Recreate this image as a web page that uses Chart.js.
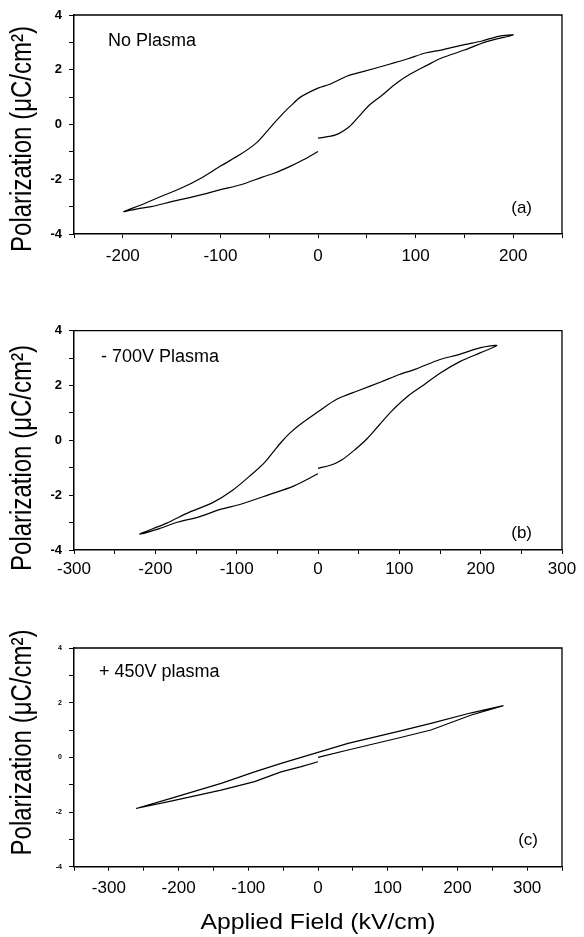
<!DOCTYPE html>
<html>
<head>
<meta charset="utf-8">
<script src="https://cdn.jsdelivr.net/npm/chart.js@4.4.1/dist/chart.umd.min.js"></script>
<style>
  body { margin: 0; background: #fff; }
  #wrap { position: relative; width: 584px; height: 937px; }
  canvas { position: absolute; left: 0; }
</style>
</head>
<body>
<div id="wrap">
  <canvas id="chartA" width="584" height="300" style="top:0"></canvas>
  <canvas id="chartB" width="584" height="300" style="top:300px"></canvas>
  <canvas id="chartC" width="584" height="337" style="top:600px"></canvas>
</div>
<script>
// (a) No Plasma - loop, starting at the open end at 0 kV/cm
const fieldA = [0, 18, 32, 42, 53, 65, 80, 95, 111, 126, 150, 172, 200,
  185, 168, 150, 126, 111, 92, 73, 46, 30, 12, 0,
  -18, -28, -36, -45, -53, -64, -79, -99, -120, -140, -161, -180, -199,
  -185, -171, -150, -120, -100, -79, -57, -45, -28, -15, 0];
const polA = [-0.5, -0.38, -0.08, 0.3, 0.72, 1.05, 1.5, 1.85, 2.15, 2.42, 2.72, 3.02, 3.27,
  3.22, 3.05, 2.92, 2.72, 2.62, 2.4, 2.2, 1.93, 1.77, 1.47, 1.33,
  1.0, 0.68, 0.4, 0.05, -0.28, -0.7, -1.08, -1.5, -1.96, -2.32, -2.63, -2.92, -3.18,
  -3.08, -3.0, -2.82, -2.57, -2.38, -2.2, -1.92, -1.78, -1.52, -1.29, -0.99];

// (b) -700V Plasma
const fieldB = [0, 18, 30, 45, 60, 75, 90, 110, 130, 150, 175, 200, 220,
  200, 172, 150, 120, 100, 78, 50, 23, 0,
  -22, -34, -45, -55, -67, -80, -105, -130, -158, -186, -219,
  -195, -172, -145, -120, -95, -60, -30, 0];
const polB = [-1.02, -0.88, -0.7, -0.35, 0.05, 0.55, 1.05, 1.6, 2.02, 2.45, 2.88, 3.2, 3.46,
  3.38, 3.12, 2.95, 2.6, 2.4, 2.14, 1.82, 1.5, 1.04,
  0.58, 0.28, -0.06, -0.42, -0.85, -1.2, -1.82, -2.28, -2.62, -3.02, -3.42,
  -3.22, -2.98, -2.78, -2.52, -2.33, -1.98, -1.67, -1.22];

// (c) +450V plasma
const fieldC = [0, 43, 114, 162, 220, 266, 220, 162, 114, 43, 0,
  -53, -91, -139, -211, -261, -211, -139, -91, -53, -24, 0];
const polC = [0.0, 0.27, 0.7, 1.0, 1.55, 1.89, 1.63, 1.24, 0.94, 0.51, 0.18,
  -0.22, -0.53, -0.95, -1.5, -1.87, -1.6, -1.2, -0.89, -0.53, -0.34, -0.16];

const yTitle = 'Polarization (\u03bcC/cm\u00b2)';
const xTitle = 'Applied Field (kV/cm)';

Chart.defaults.font.family = "'Liberation Sans', Arial, sans-serif";
Chart.defaults.color = '#000';

// draws the top/right frame and the free texts of a panel
const panelText = {
  id: 'panelText',
  afterDraw(chart, args, opts) {
    const ctx = chart.ctx, a = chart.chartArea;
    ctx.save();
    ctx.strokeStyle = '#000';
    ctx.lineWidth = 1.3;
    ctx.beginPath();
    ctx.moveTo(a.left, a.top);
    ctx.lineTo(a.right, a.top);
    ctx.lineTo(a.right, a.bottom);
    ctx.stroke();
    (opts.items || []).forEach(t => {
      ctx.save();
      ctx.fillStyle = '#000';
      ctx.font = t.font;
      ctx.textAlign = t.align || 'left';
      ctx.textBaseline = 'middle';
      ctx.translate(t.x, t.y);
      ctx.scale(t.sx || 1, 1);
      if (t.rot) ctx.rotate(t.rot);
      ctx.fillText(t.text, 0, 0);
      ctx.restore();
    });
    ctx.restore();
  }
};

function makePanel(id, field, pol, cfg) {
  const pts = field.map((x, i) => ({ x: x, y: pol[i] }));
  return new Chart(document.getElementById(id), {
    type: 'scatter',
    data: {
      datasets: [{
        data: pts,
        showLine: true,
        borderColor: '#000',
        borderWidth: 1.2,
        pointRadius: 0,
        tension: cfg.tension,
        fill: false
      }]
    },
    options: {
      responsive: false,
      animation: false,
      events: [],
      layout: { padding: { top: cfg.top, right: 22, left: 0, bottom: 0 } },
      plugins: {
        legend: { display: false },
        tooltip: { enabled: false },
        panelText: { items: cfg.texts }
      },
      scales: {
        x: {
          type: 'linear',
          min: cfg.xMin,
          max: cfg.xMax,
          afterFit: s => { s.height = cfg.xH; s.paddingLeft = 0; s.paddingRight = 0; },
          border: { display: true, color: '#000', width: 1.5 },
          grid: { drawOnChartArea: false, drawTicks: true, tickLength: 4, color: '#000', lineWidth: 1 },
          ticks: {
            stepSize: 50, autoSkip: false, maxRotation: 0, padding: cfg.xPad,
            font: { size: 17 }, color: '#000',
            callback: v => (v % 100 === 0 ? String(v) : '')
          }
        },
        y: {
          min: -4,
          max: 4,
          afterFit: s => { s.width = 74; s.paddingTop = 0; s.paddingBottom = 0; },
          border: { display: true, color: '#000', width: 1.5 },
          grid: { drawOnChartArea: false, drawTicks: true, tickLength: 5, color: '#000', lineWidth: 1 },
          ticks: {
            stepSize: 1, autoSkip: false, padding: 7,
            font: cfg.yFont, color: '#000',
            callback: v => (v % 2 === 0 ? String(v) : '')
          }
        }
      }
    },
    plugins: [panelText]
  });
}

const bigTick = { size: 13, weight: 'bold' };
const yTitleFont = "24px 'Liberation Sans', Arial, sans-serif";
const noteFont = "18px 'Liberation Sans', Arial, sans-serif";
const tagFont = "17px 'Liberation Sans', Arial, sans-serif";

makePanel('chartA', fieldA, polA, {
  xMin: -250, xMax: 250, top: 15, xH: 66, xPad: 8, tension: 0.3, yFont: bigTick,
  texts: [
    { text: yTitle, x: 23, y: 139, font: yTitleFont, align: 'center', rot: -Math.PI / 2, sx: 1.2 },
    { text: 'No Plasma', x: 108, y: 41.5, font: noteFont },
    { text: '(a)', x: 532, y: 208, font: tagFont, align: 'right' }
  ]
});

makePanel('chartB', fieldB, polB, {
  xMin: -300, xMax: 300, top: 30.7, xH: 50, xPad: 5, tension: 0.3, yFont: bigTick,
  texts: [
    { text: yTitle, x: 23, y: 158, font: yTitleFont, align: 'center', rot: -Math.PI / 2, sx: 1.2 },
    { text: '- 700V Plasma', x: 101, y: 56.7, font: noteFont },
    { text: '(b)', x: 532, y: 233.3, font: tagFont, align: 'right' }
  ]
});

makePanel('chartC', fieldC, polC, {
  xMin: -350, xMax: 350, top: 48, xH: 70.3, xPad: 7, tension: 0, yFont: { size: 7, weight: 'bold' },
  texts: [
    { text: yTitle, x: 23, y: 142.5, font: yTitleFont, align: 'center', rot: -Math.PI / 2, sx: 1.2 },
    { text: '+ 450V plasma', x: 99, y: 71.7, font: noteFont },
    { text: '(c)', x: 538, y: 240, font: tagFont, align: 'right' },
    { text: xTitle, x: 318, y: 323, font: "21.5px 'Liberation Sans', Arial, sans-serif", align: 'center', sx: 1.15 }
  ]
});
</script>
</body>
</html>
